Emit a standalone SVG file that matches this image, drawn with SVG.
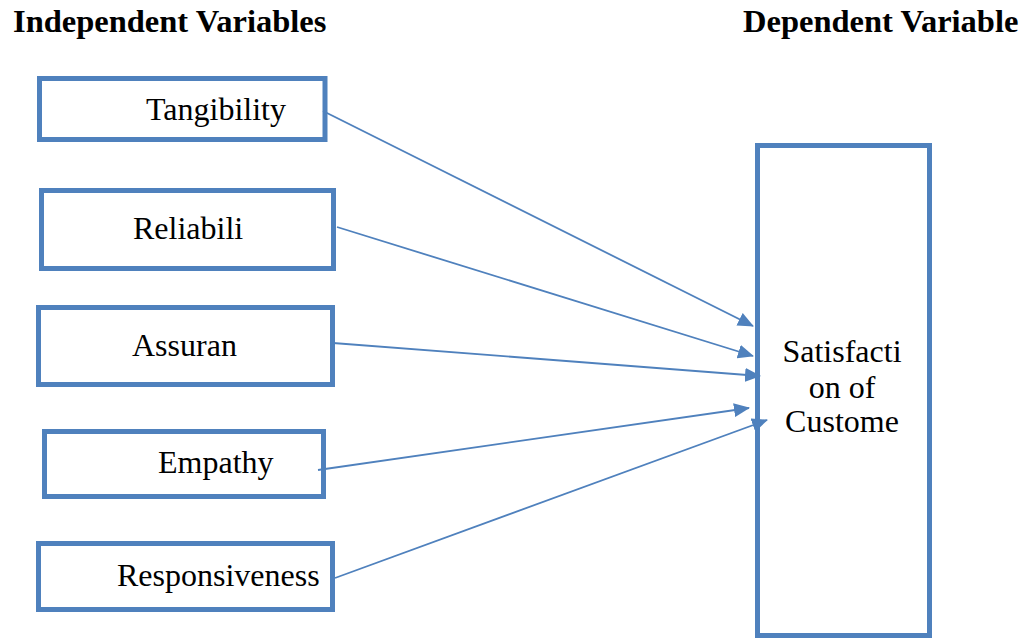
<svg xmlns="http://www.w3.org/2000/svg" width="1027" height="638" viewBox="0 0 1027 638">
<defs>
<style>
.box{fill:#fff;stroke:#4F81BD;stroke-width:5}
.lbl{font-family:"Liberation Serif","Times New Roman",serif;font-size:32px;fill:#000}
.ttl{font-family:"Liberation Serif","Times New Roman",serif;font-size:32.5px;font-weight:bold;fill:#000}
.con{stroke:#4F81BD;stroke-width:1.8;fill:none;marker-end:url(#ah)}
</style>
<marker id="ah" markerUnits="userSpaceOnUse" markerWidth="16" markerHeight="14" viewBox="0 0 16 14" refX="15" refY="7" orient="auto">
<path d="M0,0 L16,7 L0,14 z" fill="#4F81BD"/>
</marker>
</defs>
<rect width="1027" height="638" fill="#fff"/>
<text class="ttl" x="13" y="32">Independent Variables</text>
<text class="ttl" x="743" y="32">Dependent Variable</text>
<g id="tangibility"><rect class="box" x="39.5" y="78.5" width="285.5" height="61"/><text class="lbl" x="146" y="120">Tangibility</text></g>
<g id="reliability"><rect class="box" x="41.5" y="190.5" width="292" height="78"/><text class="lbl" x="133" y="239">Reliabili</text></g>
<g id="assurance"><rect class="box" x="38.5" y="307.5" width="294" height="77"/><text class="lbl" x="132" y="356">Assuran</text></g>
<g id="empathy"><rect class="box" x="44.5" y="431.5" width="279" height="65"/><text class="lbl" x="158" y="473">Empathy</text></g>
<g id="responsiveness"><rect class="box" x="38.5" y="543.5" width="294" height="66"/><text class="lbl" x="117" y="586">Responsiveness</text></g>
<g id="satisfaction"><rect class="box" x="757.5" y="145.5" width="172" height="490"/>
<text class="lbl" text-anchor="middle" x="842" y="362">Satisfacti</text>
<text class="lbl" text-anchor="middle" x="842" y="398">on of</text>
<text class="lbl" text-anchor="middle" x="842" y="432">Custome</text></g>
<g id="connectors">
<line class="con" x1="323" y1="111" x2="753" y2="326"/>
<line class="con" x1="337" y1="227" x2="753" y2="356"/>
<line class="con" x1="333" y1="343" x2="760" y2="376"/>
<line class="con" x1="318" y1="470" x2="749" y2="408"/>
<line class="con" x1="335" y1="578" x2="767" y2="420"/>
</g>
</svg>
